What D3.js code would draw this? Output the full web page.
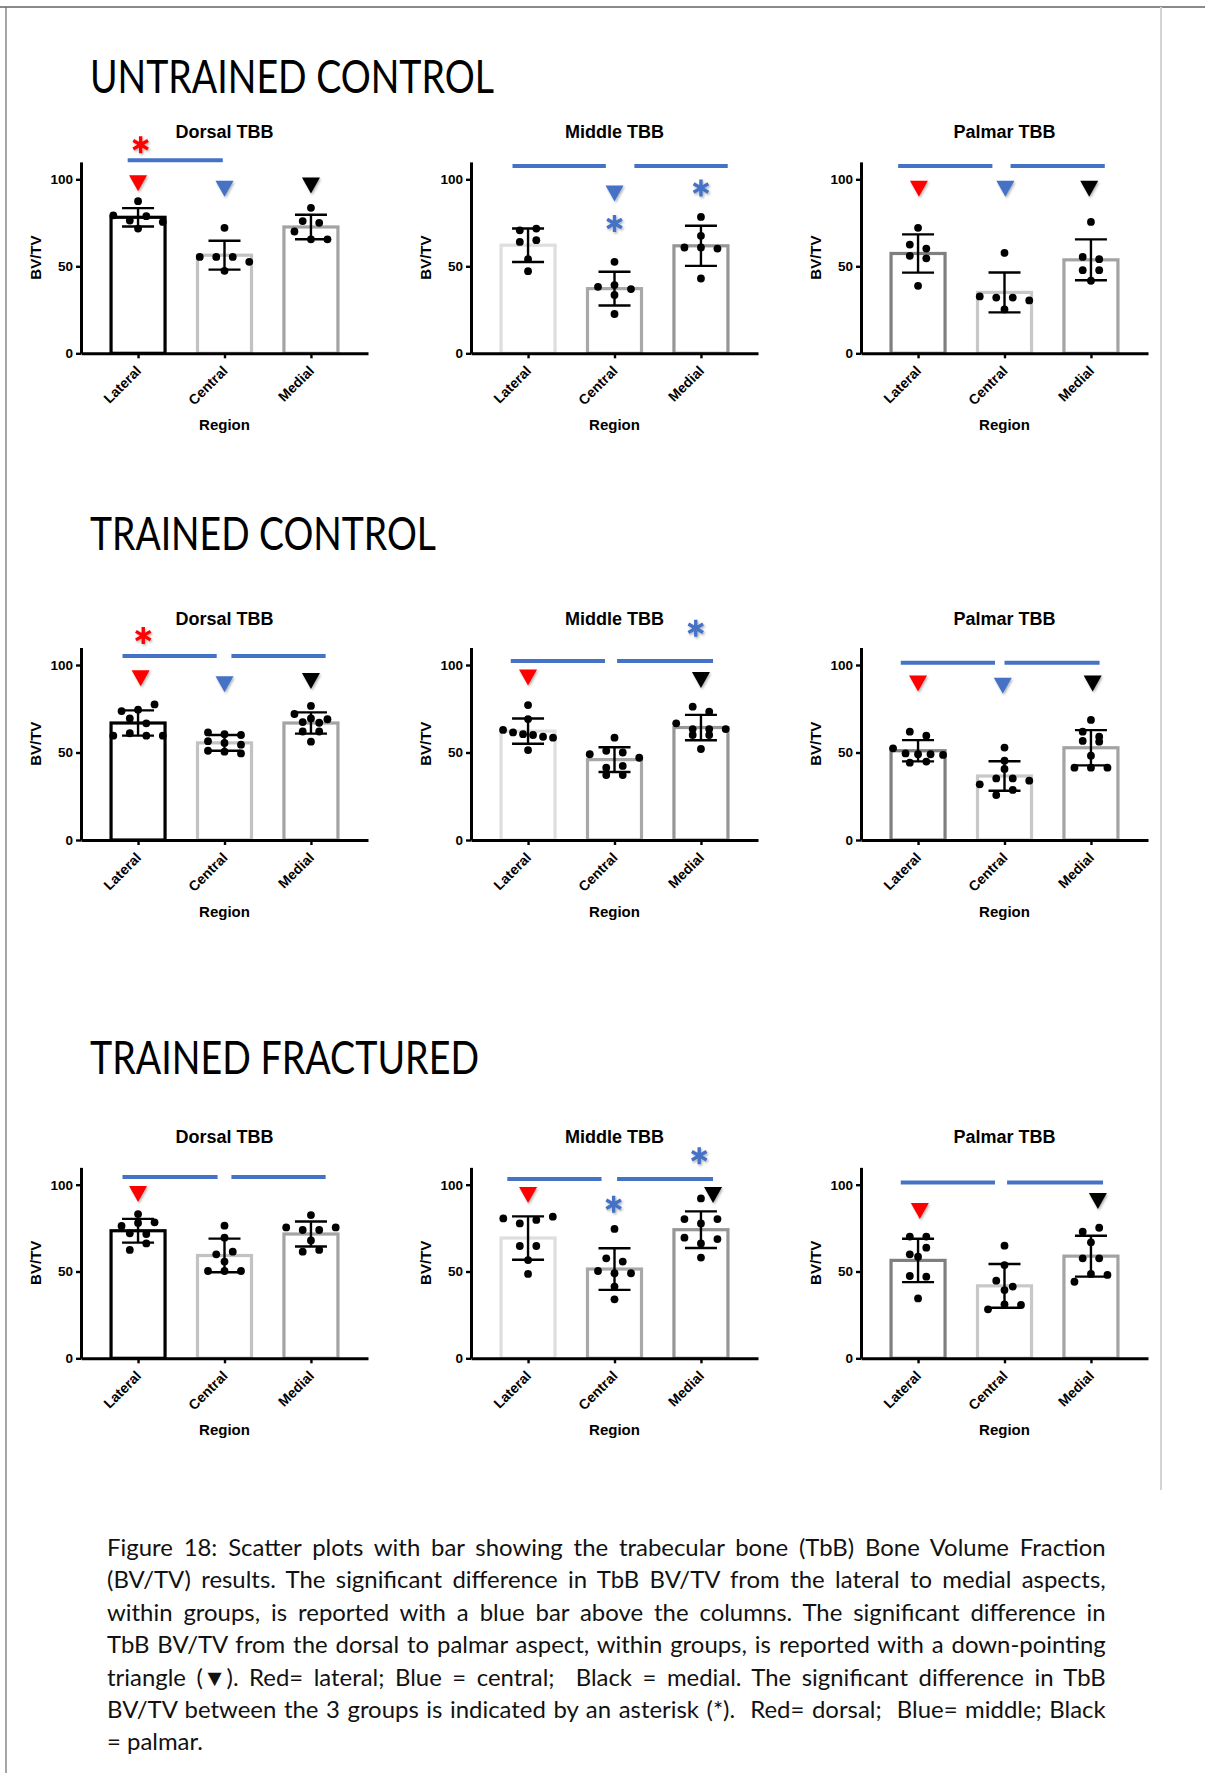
<!DOCTYPE html>
<html>
<head>
<meta charset="utf-8">
<script src="https://cdn.jsdelivr.net/npm/d3@7"></script>
<style>
  html, body { margin: 0; padding: 0; background: #fff; }
  svg { display: block; }
</style>
</head>
<body>
<svg id="fig" width="1205" height="1773"></svg>
<script>
// ---- labels ----
const groups  = ["UNTRAINED CONTROL", "TRAINED CONTROL", "TRAINED FRACTURED"];
const aspects = ["Dorsal TBB", "Middle TBB", "Palmar TBB"];
const regions = ["Lateral", "Central", "Medial"];
const yTicks  = [0, 50, 100];

// ---- BV/TV per specimen: [Lateral, Central, Medial] ----
const untrainedDorsal = [
  [87.4, 79.3, 76.3, 78.8, 75.5, 71.7],
  [72.1, 55.4, 55.4, 55.4, 52.6, 47.4],
  [83.6, 76.0, 75.0, 70.0, 65.5, 65.5]
];
const untrainedMiddle = [
  [70.7, 71.7, 64.0, 65.0, 54.1, 47.2],
  [52.6, 38.2, 39.2, 36.9, 33.5, 22.6],
  [78.4, 67.5, 60.8, 60.8, 60.2, 43.0]
];
const untrainedPalmar = [
  [72.1, 62.5, 60.2, 56.0, 54.6, 38.8],
  [57.7, 32.7, 32.0, 32.0, 30.4, 25.2],
  [75.5, 55.4, 54.1, 47.8, 47.8, 41.7]
];
const trainedDorsal = [
  [73.7, 74.5, 77.5, 69.5, 66.7, 59.6, 61.0, 59.6, 59.6],
  [61.5, 60.5, 60.0, 56.5, 55.5, 54.5, 51.0, 50.5, 49.5],
  [72.0, 76.6, 69.5, 69.0, 67.4, 67.0, 62.0, 62.0, 56.2]
];
const trainedMiddle = [
  [77.1, 69.1, 62.9, 61.5, 60.5, 60.0, 59.0, 58.5, 51.4],
  [58.5, 49.0, 51.0, 50.0, 47.0, 41.3, 42.3, 37.1, 37.1],
  [76.2, 73.3, 66.7, 63.4, 60.0, 63.4, 60.0, 63.4, 52.0]
];
const trainedPalmar = [
  [61.9, 59.6, 52.4, 49.5, 49.0, 49.0, 48.6, 44.2, 44.8],
  [52.8, 45.3, 40.6, 31.8, 35.2, 35.2, 33.9, 25.7, 28.6],
  [68.6, 61.9, 59.0, 56.6, 56.2, 48.2, 41.3, 41.3, 41.3]
];
const fracturedDorsal = [
  [83.1, 76.2, 78.0, 78.3, 72.0, 71.6, 62.4, 66.2],
  [76.4, 69.5, 59.9, 61.4, 55.7, 50.3, 50.3, 50.3],
  [82.5, 75.4, 73.9, 73.9, 75.4, 67.9, 61.4, 62.4]
];
const fracturedMiddle = [
  [80.6, 77.7, 79.7, 81.6, 64.7, 64.7, 56.6, 48.6],
  [74.5, 57.6, 55.7, 50.3, 49.0, 49.0, 41.3, 34.0],
  [92.1, 80.2, 77.7, 80.2, 69.5, 66.2, 68.7, 58.0]
];
const fracturedPalmar = [
  [70.1, 70.1, 59.9, 63.7, 58.5, 47.4, 47.0, 34.5],
  [64.9, 53.7, 44.7, 39.3, 41.3, 28.2, 31.1, 30.7],
  [72.9, 75.2, 66.8, 57.6, 57.6, 44.1, 48.6, 48.0]
];

// ---- lateral-to-medial significance bars: spans in region units, and their BV/TV level ----
const sigSpans = [
  [[[-0.12, 0.98]], [[-0.18, 0.90], [1.23, 2.31]], [[-0.23, 0.86], [1.07, 2.16]]],
  [[[-0.18, 0.91], [1.08, 2.17]], [[-0.20, 0.89], [1.03, 2.14]], [[-0.20, 0.89], [1.00, 2.10]]],
  [[[-0.18, 0.92], [1.08, 2.17]], [[-0.24, 0.85], [1.03, 2.14]], [[-0.20, 0.89], [1.03, 2.14]]]
];
const sigLevels = [
  [111.0, 107.6, 107.6],
  [105.1, 102.3, 101.3],
  [104.4, 103.3, 101.3]
];

// ---- dorsal-to-palmar triangles: [region position, BV/TV] ----
const triangles = [
  [[[0, 97.7], [1, 94.6], [2, 96.4]], [[1, 91.8]], [[0.01, 94.6], [1.01, 94.6], [1.98, 94.6]]],
  [[[0.03, 92.4], [1, 89.0], [2, 90.9]], [[0, 92.8], [2, 91.4]], [[0, 89.5], [0.98, 88.2], [2.02, 89.5]]],
  [[[0, 94.6]], [[0, 94.0], [2.14, 94.0]], [[0.02, 84.8], [2.08, 90.6]]]
];

// ---- between-group asterisks: [region position, BV/TV] ----
const asterisks = [
  [[[0.03, 119.9]], [[1, 74.6], [2, 95.0]], []],
  [[[0.06, 116.8]], [[1.94, 121.0]], []],
  [[], [[0.99, 88.7], [1.98, 116.7]], []]
];

const panelData = [
  [untrainedDorsal, untrainedMiddle, untrainedPalmar],
  [trainedDorsal, trainedMiddle, trainedPalmar],
  [fracturedDorsal, fracturedMiddle, fracturedPalmar]
];

const captionLines = [
  "Figure 18: Scatter plots with bar showing the trabecular bone (TbB) Bone Volume Fraction",
  "(BV/TV) results. The significant difference in TbB BV/TV from the lateral to medial aspects,",
  "within groups, is reported with a blue bar above the columns. The significant difference in",
  "TbB BV/TV from the dorsal to palmar aspect, within groups, is reported with a down-pointing",
  "triangle (\u25BC). Red= lateral; Blue = central;  Black = medial. The significant difference in TbB",
  "BV/TV between the 3 groups is indicated by an asterisk (*).  Red= dorsal;  Blue= middle; Black",
  "= palmar."
];

// ---- styling ----
const regionColor = ["#ff0000", "#4472c4", "#000000"];   // triangles
const aspectColor = ["#ff0000", "#4472c4", "#000000"];   // asterisks
const barShades = [
  ["#000000", "#c2c2c2", "#a3a3a3"],
  ["#dedede", "#a8a8a8", "#969696"],
  ["#7f7f7f", "#c8c8c8", "#a3a3a3"]
];
const sigBlue = "#4472c4";
const chartFont = "'Liberation Sans', Arial, Helvetica, sans-serif";
const textFont = "Lato, 'Open Sans', 'Noto Sans', sans-serif";

// ---- layout ----
const colAxisX = [81, 471, 861];
const plotW = 287;
const rowBase = [353.3, 840, 1358.3];
const rowPx100 = [174, 175, 173.6];
const yMax = 110;
const titleBase = [93, 550, 1074];
const titleWidth = [404, 346, 389];

const svg = d3.select("#fig");
const defs = svg.append("defs");
defs.append("filter").attr("id", "soft")
  .attr("x", "-60%").attr("y", "-60%").attr("width", "220%").attr("height", "220%")
  .append("feDropShadow")
  .attr("dx", 1.2).attr("dy", 1.6).attr("stdDeviation", 1.1)
  .attr("flood-color", "#000").attr("flood-opacity", 0.3);

// page frame
svg.append("line").attr("x1", 0).attr("x2", 1205).attr("y1", 7).attr("y2", 7)
  .attr("stroke", "#8a8a8a").attr("stroke-width", 2);
svg.append("line").attr("x1", 6).attr("x2", 6).attr("y1", 7).attr("y2", 1773)
  .attr("stroke", "#6a6a6a").attr("stroke-width", 1.2);
svg.append("line").attr("x1", 1161).attr("x2", 1161).attr("y1", 7).attr("y2", 1490)
  .attr("stroke", "#d4d4d4").attr("stroke-width", 2);

// horizontal spread of dots sharing a value band, centred on the category
function spread(vals, y) {
  const order = d3.range(vals.length).sort((a, b) => vals[b] - vals[a]);
  const rows = [];
  order.forEach(i => {
    const row = rows[rows.length - 1];
    if (row && y(vals[i]) - y(vals[row[0]]) < 8) row.push(i);
    else rows.push([i]);
  });
  const off = new Array(vals.length).fill(0);
  rows.forEach(row => {
    row.sort((a, b) => a - b);
    const k = row.length;
    const sp = k > 1 ? Math.min(16.5, 50 / (k - 1)) : 0;
    row.forEach((i, j) => { off[i] = (j - (k - 1) / 2) * sp; });
  });
  return off;
}

function asteriskPath(r) {
  const p = [];
  [90, 30, -30].forEach(a => {
    const t = a * Math.PI / 180;
    const dx = r * Math.cos(t), dy = r * Math.sin(t);
    p.push(`M${-dx},${dy}L${dx},${-dy}`);
  });
  return p.join("");
}

groups.forEach((gName, r) => {
  svg.append("text")
    .attr("x", 90).attr("y", titleBase[r])
    .attr("font-family", textFont).attr("font-size", 46)
    .attr("textLength", titleWidth[r]).attr("lengthAdjust", "spacingAndGlyphs")
    .attr("fill", "#000")
    .text(gName);

  aspects.forEach((aName, c) => {
    const data = panelData[r][c];
    const x0 = colAxisX[c];
    const yb = rowBase[r];
    const y = d3.scaleLinear().domain([0, yMax]).range([yb, yb - rowPx100[r] * yMax / 100]);
    const x = d3.scalePoint().domain(regions).range([x0, x0 + plotW]).padding(0.66);
    const step = x.step();
    const xPos = pos => x(regions[0]) + pos * step;
    const g = svg.append("g");

    // bars (mean) with white fill
    const stats = data.map(v => ({ mean: d3.mean(v), sd: d3.deviation(v) }));
    g.selectAll("rect.bar").data(stats).join("rect")
      .attr("class", "bar")
      .attr("x", (d, i) => x(regions[i]) - 27)
      .attr("width", 54)
      .attr("y", d => y(d.mean))
      .attr("height", d => yb - y(d.mean))
      .attr("fill", "#fff")
      .attr("stroke", (d, i) => barShades[c][i])
      .attr("stroke-width", 3.2);

    // individual specimens
    data.forEach((vals, i) => {
      const off = spread(vals, y);
      g.selectAll(null).data(vals).join("circle")
        .attr("cx", (d, j) => x(regions[i]) + off[j])
        .attr("cy", d => y(d))
        .attr("r", 3.9)
        .attr("fill", "#000");
    });

    // mean ± SD
    stats.forEach((s, i) => {
      const cx = x(regions[i]);
      const eg = g.append("g").attr("stroke", "#000").attr("stroke-width", 2.4);
      eg.append("line").attr("x1", cx).attr("x2", cx).attr("y1", y(s.mean + s.sd)).attr("y2", y(s.mean - s.sd));
      eg.append("line").attr("x1", cx - 16).attr("x2", cx + 16).attr("y1", y(s.mean + s.sd)).attr("y2", y(s.mean + s.sd));
      eg.append("line").attr("x1", cx - 16).attr("x2", cx + 16).attr("y1", y(s.mean - s.sd)).attr("y2", y(s.mean - s.sd));
    });

    // axes
    const ya = g.append("g").attr("transform", `translate(${x0},0)`)
      .call(d3.axisLeft(y).tickValues(yTicks).tickSize(5).tickSizeOuter(0).tickPadding(3));
    const xa = g.append("g").attr("transform", `translate(0,${yb})`)
      .call(d3.axisBottom(x).tickSize(5).tickSizeOuter(0));
    ya.attr("font-size", 13.5);
    xa.attr("font-size", 14);
    [ya, xa].forEach(a => {
      a.attr("font-family", chartFont).attr("font-weight", "bold");
      a.select(".domain").attr("stroke", "#000").attr("stroke-width", 3);
      a.selectAll(".tick line").attr("stroke", "#000").attr("stroke-width", 2.4);
      a.selectAll(".tick text").attr("fill", "#000");
    });
    xa.selectAll(".tick text")
      .attr("x", 0).attr("y", 0).attr("dy", "0.35em")
      .attr("text-anchor", "end")
      .attr("transform", "translate(0,15) rotate(-45)");

    // titles
    g.append("text")
      .attr("x", x0 + plotW / 2).attr("y", yb - 215)
      .attr("text-anchor", "middle")
      .attr("font-family", chartFont).attr("font-weight", "bold").attr("font-size", 18)
      .text(aName);
    g.append("text")
      .attr("x", x0 + plotW / 2).attr("y", yb + 77)
      .attr("text-anchor", "middle")
      .attr("font-family", chartFont).attr("font-weight", "bold").attr("font-size", 15)
      .text("Region");
    g.append("text")
      .attr("transform", `translate(${x0 - 46},${(y(0) + y(yMax)) / 2}) rotate(-90)`)
      .attr("text-anchor", "middle").attr("dominant-baseline", "central")
      .attr("font-family", chartFont).attr("font-weight", "bold").attr("font-size", 15)
      .text("BV/TV");

    // lateral-to-medial bars
    g.selectAll(null).data(sigSpans[r][c]).join("line")
      .attr("x1", d => xPos(d[0])).attr("x2", d => xPos(d[1]))
      .attr("y1", y(sigLevels[r][c])).attr("y2", y(sigLevels[r][c]))
      .attr("stroke", sigBlue).attr("stroke-width", 4);

    // dorsal-to-palmar triangles
    g.selectAll(null).data(triangles[r][c]).join("path")
      .attr("d", "M-9,-8L9,-8L0,8Z")
      .attr("transform", d => `translate(${xPos(d[0])},${y(d[1])})`)
      .attr("fill", d => regionColor[Math.round(d[0])])
      .attr("filter", "url(#soft)");

    // between-group asterisks
    g.selectAll(null).data(asterisks[r][c]).join("path")
      .attr("d", asteriskPath(8.5))
      .attr("transform", d => `translate(${xPos(d[0])},${y(d[1])})`)
      .attr("fill", "none")
      .attr("stroke", aspectColor[c]).attr("stroke-width", 3.4)
      .attr("filter", "url(#soft)");
  });
});

// caption, justified across the text column
const capLeft = 107, capWidth = 999;
const cap = svg.append("g")
  .attr("font-family", textFont).attr("font-size", 23).attr("fill", "#111");
const capText = captionLines.map((t, i) => cap.append("text")
  .attr("x", 0).attr("y", 1556 + i * 32.4)
  .style("white-space", "pre")
  .text(t));
const natural = capText.map(el => el.node().getComputedTextLength());
const sx = 0.975 * capWidth / d3.max(natural.slice(0, -1));
cap.attr("transform", `translate(${capLeft},0) scale(${sx},1)`);
capText.forEach((el, i) => {
  if (i === captionLines.length - 1) return;
  const n = (captionLines[i].match(/ /g) || []).length;
  el.style("word-spacing", ((capWidth / sx - natural[i]) / n) + "px");
});
</script>
</body>
</html>
